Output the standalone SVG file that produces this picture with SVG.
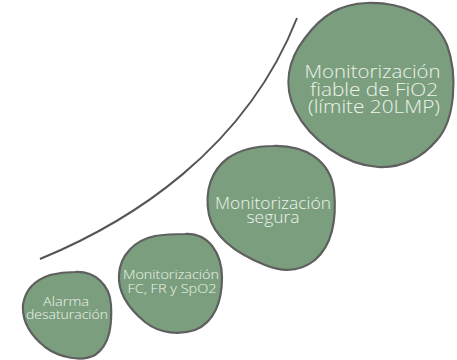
<svg xmlns="http://www.w3.org/2000/svg" width="457" height="360" viewBox="0 0 457 360">
<style>
.blob{fill:#7b9f7e;stroke:#5f5f5f;stroke-width:2.2}
.t{font-family:"Open Sans","Liberation Sans",sans-serif;font-weight:300;fill:#eef3ec;text-anchor:middle}
.curve{fill:none;stroke:#555;stroke-width:2}
</style>
<rect width="457" height="360" fill="#fff"/>
<g id="connectors">
<path class="curve" d="M40,259 C130,222 245,150 297,18"/>
</g>
<g id="n4">
<path class="blob" d="M367,3 C400,2 435,15 447,45 C458,75 455,120 437,140 C420,160 400,168 378,167 C345,165 310,140 295,110 C283,85 288,60 305,38 C322,15 340,4 367,3 Z"/>
<text class="t" font-size="17.5" x="372.5" y="78" textLength="136" lengthAdjust="spacingAndGlyphs">Monitorización</text>
<text class="t" font-size="17.5" x="374" y="96" textLength="128" lengthAdjust="spacingAndGlyphs">fiable de FiO2</text>
<text class="t" font-size="17.5" x="374" y="113" textLength="132" lengthAdjust="spacingAndGlyphs">(límite 20LMP)</text>
</g>
<g id="n3">
<path class="blob" d="M273,146 C305,145 330,160 334,190 C337,220 332,245 315,260 C300,272 282,272 265,265 C240,255 215,240 209,215 C204,190 212,170 228,158 C243,148 258,146 273,146 Z"/>
<text class="t" font-size="15.5" x="273" y="209" textLength="116" lengthAdjust="spacingAndGlyphs">Monitorización</text>
<text class="t" font-size="15.5" x="273" y="223" textLength="53" lengthAdjust="spacingAndGlyphs">segura</text>
</g>
<g id="n2">
<path class="blob" d="M185,234 C210,233 222,255 222,278 C222,300 215,322 195,330 C180,335 160,334 145,322 C128,308 118,292 119,275 C120,255 135,240 155,236 C167,234 176,234 185,234 Z"/>
<text class="t" font-size="13" x="171" y="279" textLength="96" lengthAdjust="spacingAndGlyphs">Monitorización</text>
<text class="t" font-size="13" x="172" y="293" textLength="89" lengthAdjust="spacingAndGlyphs">FC, FR y SpO2</text>
</g>
<g id="n1">
<path class="blob" d="M75,272 C95,271 110,285 111,305 C112,325 110,345 95,355 C82,362 60,358 45,347 C30,335 22,320 23,305 C25,290 35,280 50,275 C58,273 67,272 75,272 Z"/>
<text class="t" font-size="12.5" x="66" y="306" textLength="46" lengthAdjust="spacingAndGlyphs">Alarma</text>
<text class="t" font-size="12.5" x="67" y="319" textLength="82" lengthAdjust="spacingAndGlyphs">desaturación</text>
</g>
</svg>
